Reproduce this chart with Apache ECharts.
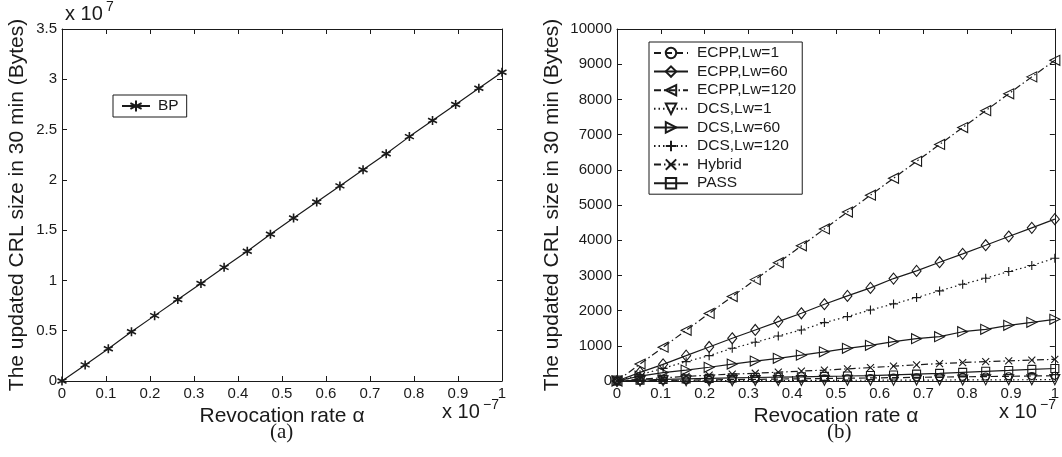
<!DOCTYPE html>
<html>
<head>
<meta charset="utf-8">
<script src="https://cdn.jsdelivr.net/npm/echarts@6/dist/echarts.min.js"></script>
<style>
html,body{margin:0;padding:0;background:#fff;}
#chart{width:1062px;height:457px;}
</style>
</head>
<body>
<div id="chart"></div>
<script>
// Revocation rate alpha (x 10^-7)
const alpha = [0, 0.0526, 0.1053, 0.1579, 0.2105, 0.2632, 0.3158, 0.3684, 0.4211, 0.4737,
               0.5263, 0.5789, 0.6316, 0.6842, 0.7368, 0.7895, 0.8421, 0.8947, 0.9474, 1.0];
// (a) BP, CRL size (x 10^7 Bytes)
const bp = [0, 0.16, 0.32, 0.49, 0.65, 0.81, 0.97, 1.13, 1.29, 1.46,
            1.62, 1.78, 1.94, 2.10, 2.26, 2.43, 2.59, 2.75, 2.91, 3.07];
// (b) CRL size (Bytes)
const ecpp1   = [0, 8, 16, 24, 32, 40, 47, 55, 63, 71, 79, 87, 95, 103, 111, 118, 126, 134, 142, 150];
const ecpp60  = [0, 246, 474, 720, 967, 1213, 1450, 1687, 1924, 2180, 2417, 2645, 2910, 3128, 3375, 3612, 3858, 4105, 4351, 4598];
const ecpp120 = [0, 480, 960, 1440, 1920, 2400, 2880, 3360, 3840, 4320, 4800, 5280, 5760, 6240, 6720, 7200, 7680, 8160, 8640, 9110];
const dcs1    = [0, 2, 4, 6, 8, 10, 12, 14, 16, 18, 20, 22, 24, 26, 28, 30, 32, 34, 36, 38];
const dcs60   = [0, 140, 240, 310, 390, 480, 565, 645, 735, 830, 928, 1013, 1117, 1202, 1260, 1400, 1468, 1582, 1667, 1753];
const dcs120  = [0, 180, 360, 550, 720, 929, 1100, 1280, 1450, 1659, 1830, 2019, 2190, 2370, 2560, 2750, 2920, 3110, 3280, 3489];
const hybrid  = [0, 50, 90, 130, 165, 195, 220, 250, 280, 310, 345, 380, 420, 460, 495, 525, 550, 572, 595, 616];
const pass    = [0, 25, 45, 60, 75, 90, 100, 110, 120, 130, 142, 155, 172, 195, 218, 246, 275, 300, 330, 355];

const seriesNamesB = ['ECPP,Lw=1', 'ECPP,Lw=60', 'ECPP,Lw=120', 'DCS,Lw=1', 'DCS,Lw=60', 'DCS,Lw=120', 'Hybrid', 'PASS'];
const seriesValsB = [ecpp1, ecpp60, ecpp120, dcs1, dcs60, dcs120, hybrid, pass];

const INK = '#1a1a1a';
const FONT = 'Liberation Sans, Arial, Helvetica, sans-serif';
const SYM = {
  star: 'path://M5,0 L5,10 M0.67,2.5 L9.33,7.5 M0.67,7.5 L9.33,2.5',
  left: 'path://M0,5 L10,0 L10,10 Z',
  right: 'path://M10,5 L0,0 L0,10 Z',
  down: 'path://M0,0 L10,0 L5,10 Z',
  plus: 'path://M5,0 L5,10 M0,5 L10,5',
  cross: 'path://M0,0 L10,10 M0,10 L10,0'
};
const DASH = [7, 4];
const DOT = [1.5, 3];
const DASHDOT = [7, 3, 1.5, 3];
const styleB = [
  {sym: 'circle', size: 7, type: DASH},
  {sym: 'diamond', size: [9, 11], type: 'solid'},
  {sym: SYM.left, size: 10, type: DASHDOT},
  {sym: SYM.down, size: 10, type: DOT},
  {sym: SYM.right, size: 10, type: 'solid'},
  {sym: SYM.plus, size: 9, type: DOT},
  {sym: SYM.cross, size: 7, type: DASHDOT},
  {sym: 'rect', size: 8, type: 'solid'}
];

const pairs = (ys) => alpha.map((a, i) => [a, ys[i]]);

function axisCommonX(gridIndex, pos, showLabel) {
  return {
    type: 'value', gridIndex: gridIndex, position: pos, min: 0, max: 1, interval: 0.1,
    axisLine: {show: true, onZero: false, lineStyle: {color: INK, width: 1}},
    axisTick: {show: true, inside: true, length: 5, lineStyle: {color: INK}},
    axisLabel: {show: showLabel, color: INK, fontSize: 15, fontFamily: FONT, margin: 5},
    splitLine: {show: false}
  };
}
function axisCommonY(gridIndex, pos, showLabel, max, interval, fmt) {
  return {
    type: 'value', gridIndex: gridIndex, position: pos, min: 0, max: max, interval: interval,
    axisLine: {show: true, onZero: false, lineStyle: {color: INK, width: 1}},
    axisTick: {show: true, inside: true, length: 5, lineStyle: {color: INK}},
    axisLabel: {show: showLabel, color: INK, fontSize: 15, fontFamily: FONT, margin: 5, formatter: fmt},
    splitLine: {show: false}
  };
}

const xAxes = [
  Object.assign(axisCommonX(0, 'bottom', true), {
    name: 'Revocation rate α', nameLocation: 'middle', nameGap: 15,
    nameTextStyle: {color: INK, fontSize: 21, fontFamily: FONT, verticalAlign: 'top'}
  }),
  axisCommonX(0, 'top', false),
  Object.assign(axisCommonX(1, 'bottom', true), {
    name: 'Revocation rate α', nameLocation: 'middle', nameGap: 15,
    nameTextStyle: {color: INK, fontSize: 21, fontFamily: FONT, verticalAlign: 'top'}
  }),
  axisCommonX(1, 'top', false)
];
const yAxes = [
  Object.assign(axisCommonY(0, 'left', true, 3.5, 0.5, v => String(v)), {
    name: 'The updated CRL size in 30 min (Bytes)', nameLocation: 'middle', nameGap: 34,
    nameTextStyle: {color: INK, fontSize: 21, fontFamily: FONT}
  }),
  axisCommonY(0, 'right', false, 3.5, 0.5),
  Object.assign(axisCommonY(1, 'left', true, 10000, 1000, v => String(v)), {
    name: 'The updated CRL size in 30 min (Bytes)', nameLocation: 'middle', nameGap: 54,
    nameTextStyle: {color: INK, fontSize: 21, fontFamily: FONT}
  }),
  axisCommonY(1, 'right', false, 10000, 1000)
];

const series = [{
  name: 'BP', type: 'line', xAxisIndex: 0, yAxisIndex: 0, data: pairs(bp),
  symbol: SYM.star, symbolSize: 9, showAllSymbol: true,
  lineStyle: {color: INK, width: 1.2, type: 'solid'},
  itemStyle: {color: 'rgba(255,255,255,0)', borderColor: INK, borderWidth: 1.6},
  emphasis: {disabled: true}, animation: false
}];
seriesNamesB.forEach((nm, i) => {
  const st = styleB[i];
  series.push({
    name: nm, type: 'line', xAxisIndex: 2, yAxisIndex: 2, data: pairs(seriesValsB[i]),
    symbol: st.sym, symbolSize: st.size, showAllSymbol: true,
    lineStyle: {color: INK, width: 1.2, type: st.type},
    itemStyle: {color: 'rgba(255,255,255,0)', borderColor: INK, borderWidth: 1.1},
    emphasis: {disabled: true}, animation: false
  });
});

const option = {
  backgroundColor: '#fff',
  animation: false,
  grid: [
    {left: 62, right: 560, top: 29, bottom: 76},
    {left: 617, right: 2, top: 29, bottom: 76}
  ],
  xAxis: xAxes,
  yAxis: yAxes,
  legend: [
    {
      data: ['BP'], left: 113, top: 95, orient: 'vertical',
      backgroundColor: '#fff', borderColor: INK, borderWidth: 1,
      padding: [3, 8, 3, 8], itemWidth: 28, itemHeight: 14, itemGap: 4,
      textStyle: {color: INK, fontSize: 15.5, fontFamily: FONT, padding: [0, 0, 0, 3]},
      selectedMode: false
    },
    {
      data: seriesNamesB, left: 649, top: 42, orient: 'vertical',
      backgroundColor: '#fff', borderColor: INK, borderWidth: 1,
      padding: [3, 6, 3, 4], itemWidth: 34, itemHeight: 13, itemGap: 2.6,
      textStyle: {color: INK, fontSize: 15.5, fontFamily: FONT, padding: [0, 0, 0, 4]},
      selectedMode: false
    }
  ],
  graphic: [
    {type: 'text', left: 65, top: 4, style: {text: 'x 10', fill: INK, font: '20px ' + FONT}},
    {type: 'text', left: 106, top: 0, style: {text: '7', fill: INK, font: '14px ' + FONT}},
    {type: 'text', left: 442, top: 402, style: {text: 'x 10', fill: INK, font: '20px ' + FONT}},
    {type: 'text', left: 483, top: 398, style: {text: '−7', fill: INK, font: '14px ' + FONT}},
    {type: 'text', left: 999, top: 402, style: {text: 'x 10', fill: INK, font: '20px ' + FONT}},
    {type: 'text', left: 1040, top: 398, style: {text: '−7', fill: INK, font: '14px ' + FONT}},
    {type: 'text', left: 270, top: 422, style: {text: '(a)', fill: INK, font: '21px "Liberation Serif", "Times New Roman", serif'}},
    {type: 'text', left: 827, top: 422, style: {text: '(b)', fill: INK, font: '21px "Liberation Serif", "Times New Roman", serif'}}
  ],
  series: series
};

const chart = echarts.init(document.getElementById('chart'), null, {renderer: 'canvas'});
chart.setOption(option);
</script>
</body>
</html>
